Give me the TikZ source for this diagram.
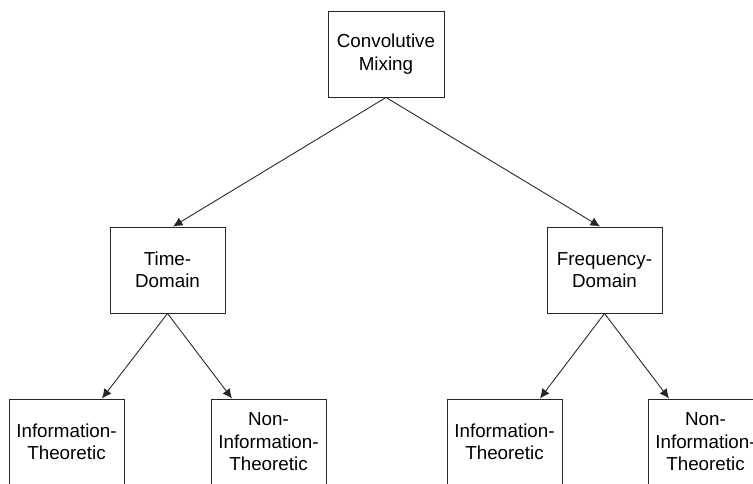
\documentclass[tikz,border=0pt]{standalone}
\usepackage{fontspec}
\setmainfont{Liberation Sans}
\usetikzlibrary{arrows.meta}

\begin{document}
\begin{tikzpicture}[box/.style={draw=black!85,line width=0.55pt,minimum width=2.3cm,minimum height=1.72cm,inner sep=0pt,align=center,font=\fontsize{10.7}{12.8}\selectfont},
    link/.style={draw=black!85,line width=0.5pt,-{Latex[length=0.19cm,width=0.18cm]}}]
    \clip (0,0) rectangle (15.06,9.68);
    \useasboundingbox (0,0) rectangle (15.06,9.68);
    \node[box,minimum width=2.32cm] (cm) at (7.72,8.6) {Convolutive\\Mixing};
    \node[box] (td) at (3.35,4.28) {Time-\\Domain};
    \node[box] (fd) at (12.09,4.28) {Frequency-\\Domain};
    \node[box] (tit) at (1.33,0.84) {Information-\\Theoretic};
    \node[box] (tnit) at (5.37,0.84) {Non-\\Information-\\Theoretic};
    \node[box] (fit) at (10.09,0.84) {Information-\\Theoretic};
    \node[box] (fnit) at (14.11,0.84) {Non-\\Information-\\Theoretic};
    \draw[link] (cm.south) -- ([xshift=0.11cm]td.north);
    \draw[link] (cm.south) -- ([xshift=-0.09cm]fd.north);
    \draw[link] (td.south) -- ([xshift=0.71cm]tit.north);
    \draw[link] (td.south) -- ([xshift=-0.73cm]tnit.north);
    \draw[link] (fd.south) -- ([xshift=0.71cm]fit.north);
    \draw[link] (fd.south) -- ([xshift=-0.73cm]fnit.north);
\end{tikzpicture}
\end{document}
